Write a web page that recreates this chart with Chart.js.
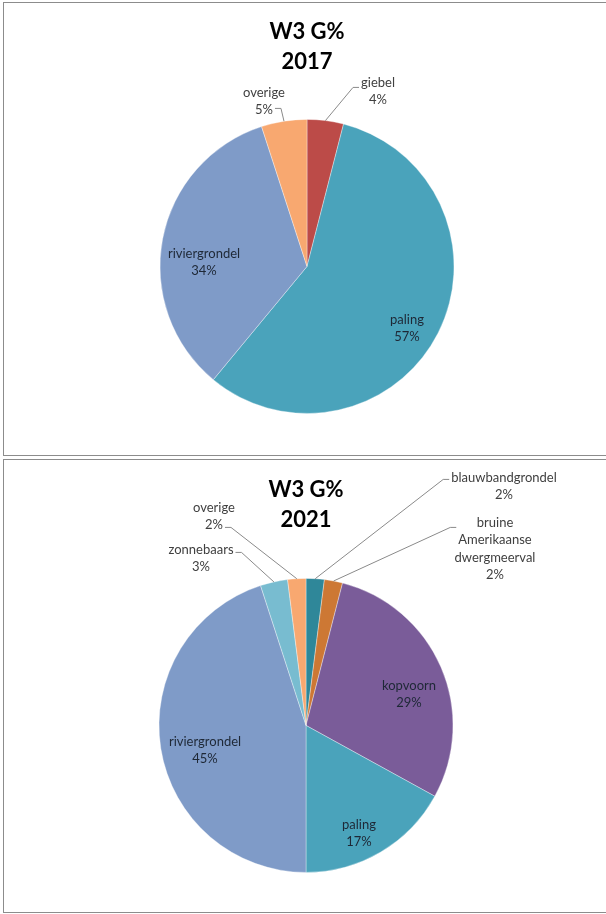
<!DOCTYPE html>
<html>
<head>
<meta charset="utf-8">
<title>W3 G%</title>
<script src="https://cdn.jsdelivr.net/npm/chart.js@4.4.1/dist/chart.umd.min.js"></script>
<style>
  body { margin: 0; background: #fff; }
  .panel { position: absolute; left: 3px; width: 612px; height: 454px; border: 1px solid #8c8c8c; box-sizing: border-box; background: #fff; }
  .box { position: relative; width: 602px; height: 452px; }
</style>
</head>
<body>
<div class="panel" style="top:2px"><div class="box"><canvas id="pie2017"></canvas></div></div>
<div class="panel" style="top:459px"><div class="box"><canvas id="pie2021"></canvas></div></div>

<script>
// soorten en aandelen (%), met de klok mee vanaf boven
var soorten2017 = ["giebel", "paling", "riviergrondel", "overige"];
var aandeel2017 = [4, 57, 34, 5];
var kleuren2017 = ["#bc4b48", "#4aa3bb", "#7f9bc8", "#f8a870"];

var soorten2021 = ["blauwbandgrondel", ["bruine", "Amerikaanse", "dwergmeerval"], "kopvoorn", "paling", "riviergrondel", "zonnebaars", "overige"];
var aandeel2021 = [2, 2, 29, 17, 45, 3, 2];
var kleuren2021 = ["#2f8799", "#cd7834", "#7a5c99", "#4aa3bb", "#7f9bc8", "#78bcd0", "#f8a870"];

Chart.defaults.font.family = "Lato";

// labels met naam + percentage, buiten de taart met een aanwijslijn
var sliceLabels = {
    id: "sliceLabels",
    afterDatasetsDraw: function (chart, args, opts) {
        var ctx = chart.ctx;
        var meta = chart.getDatasetMeta(0);
        var values = chart.data.datasets[0].data;
        ctx.save();
        ctx.font = opts.font;
        ctx.textAlign = "center";
        ctx.textBaseline = "middle";
        meta.data.forEach(function (arc, i) {
            var spot = opts.spots[i];
            var p = arc.getProps(["x", "y", "startAngle", "endAngle", "outerRadius"], true);
            var name = chart.data.labels[i];
            var lines = (Array.isArray(name) ? name : [name]).concat(values[i] + "%");
            var cx = p.x + spot.dx, cy = p.y + spot.dy;
            ctx.fillStyle = spot.hook ? opts.color : opts.innerColor;
            lines.forEach(function (t, k) {
                ctx.fillText(t, cx, cy + k * opts.lineGap);
            });
            if (spot.hook) {
                var mid = (p.startAngle + p.endAngle) / 2;
                var ex = p.x + Math.cos(mid) * p.outerRadius;
                var ey = p.y + Math.sin(mid) * p.outerRadius;
                var w = ctx.measureText(lines[spot.hook.line]).width;
                var dir = spot.hook.side === "left" ? -1 : 1;
                var sx = cx + dir * (w / 2 + 2), sy = cy + spot.hook.dy;
                ctx.beginPath();
                ctx.moveTo(sx, sy);
                ctx.lineTo(sx + dir * 6, sy);
                ctx.lineTo(ex, ey);
                ctx.strokeStyle = opts.lineColor;
                ctx.lineWidth = 1;
                ctx.stroke();
            }
        });
        ctx.restore();
    }
};

function taart(id, jaar, soorten, aandeel, kleuren, spots, pad) {
    return new Chart(id, {
        type: "pie",
        data: {
            labels: soorten,
            datasets: [{
                data: aandeel,
                backgroundColor: kleuren,
                borderColor: "rgba(255,255,255,0.35)",
                borderWidth: 1
            }]
        },
        options: {
            responsive: true,
            maintainAspectRatio: false,
            animation: false,
            layout: { padding: { left: pad.left, right: pad.right, top: 0, bottom: pad.bottom } },
            plugins: {
                legend: { display: false },
                tooltip: { enabled: false },
                title: {
                    display: true,
                    text: ["W3 G%", jaar],
                    color: "#000",
                    font: { size: 22, weight: "bold", lineHeight: 1.36 },
                    padding: { top: pad.titleTop, bottom: pad.titleBottom }
                },
                sliceLabels: {
                    spots: spots,
                    font: "13px Lato",
                    lineGap: 17.5,
                    color: "#404040",
                    innerColor: "#1e2836",
                    lineColor: "#8a8a8a"
                }
            }
        },
        plugins: [sliceLabels]
    });
}

taart("pie2017", "2017", soorten2017, aandeel2017, kleuren2017, [
    { dx: 71, dy: -184, hook: { side: "left", line: 0, dy: 5 } },
    { dx: 100, dy: 53 },
    { dx: -103, dy: -13 },
    { dx: -43, dy: -174, hook: { side: "right", line: 1, dy: 16 } }
], { left: 155.5, right: 151.5, bottom: 40.5, titleTop: 14, titleBottom: 41.5 });

taart("pie2021", "2021", soorten2021, aandeel2021, kleuren2021, [
    { dx: 198, dy: -248, hook: { side: "left", line: 0, dy: 2 } },
    { dx: 189, dy: -203, hook: { side: "left", line: 1, dy: 5 } },
    { dx: 103, dy: -40 },
    { dx: 53, dy: 99 },
    { dx: -101, dy: 16 },
    { dx: -105, dy: -176, hook: { side: "right", line: 0, dy: 3 } },
    { dx: -92, dy: -218, hook: { side: "right", line: 1, dy: 20 } }
], { left: 154.5, right: 152.5, bottom: 38.5, titleTop: 15, titleBottom: 42.5 });
</script>
</body>
</html>
